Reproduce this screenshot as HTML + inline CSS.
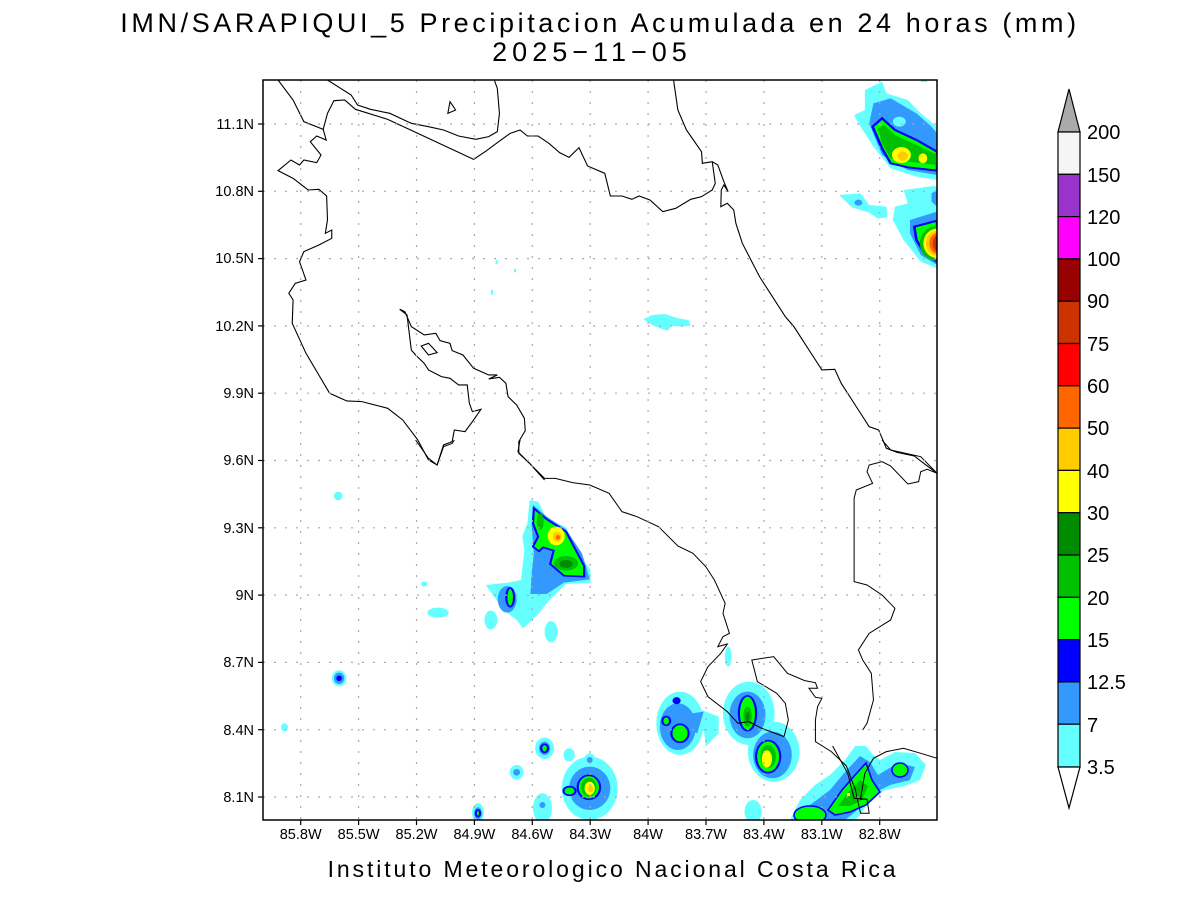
<!DOCTYPE html>
<html><head><meta charset="utf-8"><style>
html,body{margin:0;padding:0;background:#fff;}
svg{display:block;}
text{font-family:"Liberation Sans",sans-serif;fill:#000;}
</style></head><body>
<svg width="1200" height="900" viewBox="0 0 1200 900" xmlns="http://www.w3.org/2000/svg">
<defs>
<clipPath id="c"><rect x="263" y="80" width="674" height="740"/></clipPath>
</defs>
<rect width="1200" height="900" fill="#fff"/>
<text x="600" y="32" font-size="27" text-anchor="middle" letter-spacing="3.6">IMN/SARAPIQUI_5 Precipitacion Acumulada en 24 horas (mm)</text>
<text x="592" y="61" font-size="27" text-anchor="middle" letter-spacing="5">2025−11−05</text>

<g clip-path="url(#c)">
<g transform="translate(263,80) scale(0.4299,0.3333)">
 <path fill="#66ffff" d="M1400,30 L1440,5 L1450,40 L1500,60 L1530,100 L1568,140 L1568,300 L1520,290 L1460,265 L1420,200 L1390,140 L1375,105 L1400,90Z"/>
 <path fill="#3399ff" d="M1420,70 L1460,55 L1520,100 L1555,140 L1568,160 L1568,285 L1500,270 L1440,225 L1410,130Z"/>
 <path fill="#00ff00" stroke="#0000ff" stroke-width="6" d="M1440,115 L1470,150 L1520,180 L1568,215 L1568,272 L1500,262 L1460,250 L1440,205 L1418,140Z"/>
 <path fill="#00c000" d="M1445,135 L1470,165 L1520,195 L1568,225 L1568,255 L1500,245 L1460,235 L1440,190 L1430,145Z"/>
 <ellipse cx="1485" cy="225" rx="22" ry="24" fill="#ffff00"/>
 <ellipse cx="1488" cy="228" rx="12" ry="14" fill="#ffcc00"/>
 <ellipse cx="1535" cy="235" rx="10" ry="15" fill="#ffff00"/>
 <ellipse cx="1480" cy="125" rx="15" ry="15" fill="#66ffff"/>
 <path fill="#66ffff" d="M1340,345 L1390,340 L1410,375 L1450,380 L1452,412 L1430,415 L1410,398 L1370,382Z"/>
 <ellipse cx="1385" cy="368" rx="9" ry="9" fill="#3399ff"/>
 <path fill="#66ffff" d="M1490,330 L1560,318 L1568,320 L1568,565 L1530,545 L1490,480 L1465,420 L1470,380 L1500,370Z"/>
 <path fill="#3399ff" d="M1505,420 L1568,395 L1568,555 L1530,525 L1505,460Z"/>
 <path fill="#3399ff" d="M1555,340 L1568,330 L1568,380 L1555,365Z"/>
 <path fill="#00ff00" stroke="#0000ff" stroke-width="6" d="M1515,440 L1568,422 L1568,545 L1540,522 L1520,480Z"/>
 <ellipse cx="1568" cy="490" rx="40" ry="52" fill="#00c000"/>
 <ellipse cx="1568" cy="490" rx="32" ry="44" fill="#ffff00"/>
 <ellipse cx="1568" cy="490" rx="26" ry="38" fill="#ffcc00"/>
 <ellipse cx="1570" cy="490" rx="20" ry="32" fill="#ff6600"/>
 <ellipse cx="1572" cy="490" rx="14" ry="26" fill="#cc3300"/>
 <path fill="#66ffff" d="M885,718 L905,705 L935,702 L965,715 L990,720 L995,737 L975,740 L950,738 L942,752 L930,748 L905,735Z"/>
 <rect x="541" y="540" width="5" height="12" fill="#66ffff"/>
 <rect x="584" y="567" width="5" height="10" fill="#66ffff"/>
 <rect x="530" y="630" width="5" height="14" fill="#66ffff"/>
 <rect x="1530" y="0" width="15" height="6" fill="#66ffff"/>
 <g fill="none" stroke="#000" stroke-width="1.1">
  <path vector-effect="non-scaling-stroke" d="M35,0 L70,60 L95,125 L140,148 L147,180 L125,168 L110,185 L135,225 L125,248 L95,240 L85,255 L65,240 L35,272 L70,295 L105,330 L130,328 L148,348 L150,420 L145,460 L160,450 L160,475 L130,495 L95,515 L85,545 L100,600 L75,610 L60,640 L70,660 L68,730 L100,820 L155,940 L195,963 L230,965 L290,985 L325,1020 L360,1080 L385,1140 L405,1155 L420,1095 L440,1085 L445,1050 L470,1055 L490,1020 L507,988 L487,995 L480,970 L475,915 L455,915 L435,895 L415,890 L385,870 L375,850 L355,825 L345,810 L335,705 L318,688 L330,695 L345,740 L375,765 L402,760 L412,782 L435,790 L440,812 L465,825 L490,865 L525,885 L545,885 L525,897 L550,892 L565,910 L570,950 L590,975 L608,1015 L610,1052 L595,1085 L595,1120 L620,1150 L655,1200"/>
  <path vector-effect="non-scaling-stroke" d="M150,0 L205,45 L220,75 L250,88 L295,100 L345,130 L385,140 L420,150 L455,168 L495,178 L525,170 L545,155 L550,100 L545,25 L538,0"/>
  <path vector-effect="non-scaling-stroke" d="M140,148 L150,100 L165,62 L190,60 L215,88 L290,118 L490,238 L520,212 L545,188 L575,160 L598,150 L615,168 L640,168 L665,190 L690,218 L712,232 L735,203 L755,258 L795,280 L808,348 L835,348 L858,358 L875,348 L900,360 L930,395 L960,385 L995,358 L1020,350 L1045,330 L1052,310 L1045,245"/>
  <path vector-effect="non-scaling-stroke" d="M955,0 L965,90 L985,150 L1020,215 L1022,250 L1045,245 L1058,255 L1072,305 L1082,335 L1072,315 L1066,330 L1065,380 L1080,370 L1095,390 L1100,430 L1115,490 L1135,540 L1155,590 L1185,650 L1215,710 L1235,740 L1260,790 L1280,830 L1300,870 L1330,868 L1345,910 L1380,980 L1410,1040 L1432,1050 L1450,1105 L1475,1117 L1515,1128 L1537,1150 L1568,1180"/>
  <path vector-effect="non-scaling-stroke" d="M435,65 L448,90 L430,100Z"/>
  <path vector-effect="non-scaling-stroke" d="M368,798 L385,790 L405,818 L385,825Z"/>
 </g>
</g>
<g transform="translate(263,440) scale(0.4299,0.3333)">
 <g fill="#66ffff">
  <ellipse cx="175" cy="168" rx="10" ry="13"/>
  <ellipse cx="375" cy="432" rx="7" ry="8"/>
  <ellipse cx="407" cy="518" rx="25" ry="15"/>
  <ellipse cx="530" cy="540" rx="15" ry="28"/>
  <ellipse cx="670" cy="575" rx="15" ry="32"/>
  <ellipse cx="177" cy="715" rx="17" ry="24"/>
  <ellipse cx="50" cy="862" rx="8" ry="12"/>
  <ellipse cx="1082" cy="650" rx="8" ry="30"/>
  <path d="M620,180 L640,185 L660,235 L705,262 L725,320 L762,390 L762,428 L705,432 L665,482 L640,522 L605,565 L590,540 L560,510 L518,435 L570,428 L600,420 L608,330 L603,290 L615,250Z"/>
  <ellipse cx="970" cy="850" rx="55" ry="95"/>
  <path d="M1060,880 L1030,920 L1020,810 L1060,830Z"/>
  <ellipse cx="1130" cy="820" rx="60" ry="95"/>
  <ellipse cx="1188" cy="935" rx="60" ry="90"/>
  <ellipse cx="655" cy="925" rx="22" ry="32"/>
  <ellipse cx="712" cy="945" rx="13" ry="20"/>
  <ellipse cx="760" cy="960" rx="13" ry="20"/>
  <ellipse cx="590" cy="997" rx="16" ry="22"/>
  <ellipse cx="760" cy="1045" rx="65" ry="95"/>
  <ellipse cx="650" cy="1105" rx="22" ry="45"/>
  <ellipse cx="500" cy="1118" rx="14" ry="28"/>
  <ellipse cx="1140" cy="1115" rx="20" ry="35"/>
 </g>
 <g fill="#3399ff">
  <path d="M628,195 L660,230 L705,268 L742,340 L760,418 L700,428 L660,462 L622,462 L625,400 L630,340 L625,260Z"/>
  <ellipse cx="568" cy="478" rx="22" ry="40"/>
  <ellipse cx="177" cy="715" rx="12" ry="17"/>
  <ellipse cx="965" cy="860" rx="42" ry="70"/>
  <path d="M1000,820 L1025,815 L1010,880 L995,870Z"/>
  <ellipse cx="1127" cy="825" rx="42" ry="70"/>
  <ellipse cx="1185" cy="945" rx="45" ry="70"/>
  <ellipse cx="655" cy="925" rx="13" ry="20"/>
  <ellipse cx="590" cy="997" rx="8" ry="10"/>
  <ellipse cx="760" cy="1045" rx="48" ry="65"/>
  <ellipse cx="500" cy="1120" rx="9" ry="18"/>
  <ellipse cx="650" cy="1095" rx="7" ry="9"/>
  <ellipse cx="760" cy="960" rx="7" ry="9"/>
 </g>
 <g fill="#00ff00" stroke="#0000ff" stroke-width="5">
  <path d="M630,205 L660,238 L705,275 L747,378 L747,410 L700,407 L668,372 L676,332 L652,322 L642,334 L628,320 L640,290 L628,250Z"/>
  <ellipse cx="575" cy="472" rx="9" ry="28"/>
  <ellipse cx="177" cy="715" rx="4" ry="6" fill="#0000ff"/>
  <ellipse cx="970" cy="880" rx="20" ry="27"/>
  <ellipse cx="938" cy="843" rx="9" ry="13"/>
  <ellipse cx="962" cy="782" rx="7" ry="8" fill="#0000ff"/>
  <ellipse cx="1127" cy="820" rx="20" ry="52"/>
  <ellipse cx="1175" cy="950" rx="28" ry="48"/>
  <ellipse cx="655" cy="925" rx="8" ry="12"/>
  <ellipse cx="758" cy="1042" rx="26" ry="36"/>
  <ellipse cx="713" cy="1053" rx="14" ry="13"/>
  <ellipse cx="500" cy="1120" rx="5" ry="10"/>
 </g>
 <g fill="#00c000">
  <ellipse cx="705" cy="370" rx="28" ry="22"/>
  <ellipse cx="645" cy="245" rx="8" ry="25"/>
  <ellipse cx="1127" cy="830" rx="10" ry="30"/>
  <ellipse cx="1175" cy="950" rx="18" ry="35"/>
  <ellipse cx="758" cy="1042" rx="18" ry="28"/>
 </g>
 <g fill="#008c00">
  <ellipse cx="705" cy="372" rx="15" ry="12"/>
  <ellipse cx="1127" cy="830" rx="5" ry="15"/>
 </g>
 <ellipse cx="682" cy="288" rx="20" ry="28" fill="#ffff00"/>
 <ellipse cx="684" cy="290" rx="10" ry="15" fill="#ffcc00"/>
 <ellipse cx="686" cy="292" rx="5" ry="7" fill="#ff6600"/>
 <ellipse cx="1172" cy="957" rx="12" ry="26" fill="#ffff00"/>
 <ellipse cx="760" cy="1045" rx="12" ry="20" fill="#ffff00"/>
 <ellipse cx="762" cy="1047" rx="6" ry="10" fill="#ffcc00"/>
</g>
<!-- lower-right cluster in page coords -->
<path fill="#66ffff" d="M790,820 L800,800 L815,785 L830,775 L845,760 L855,746 L866,746 L873,755 L880,760 L895,752 L915,753 L926,765 L920,780 L905,786 L885,790 L870,800 L860,815 L855,820Z"/>
<path fill="#3399ff" d="M800,820 L810,805 L830,790 L845,772 L860,756 L870,762 L878,775 L898,763 L915,767 L910,780 L890,785 L870,795 L855,812 L845,820Z"/>
<path fill="#00ff00" stroke="#0000ff" stroke-width="1.6" d="M828,810 L842,790 L856,774 L866,763 L872,780 L880,792 L866,805 L850,812 L835,815Z"/>
<path fill="#00c000" d="M838,806 L850,790 L860,780 L868,786 L862,800 L850,806Z"/>
<ellipse cx="900" cy="770" rx="8" ry="7" fill="#00ff00" stroke="#0000ff" stroke-width="1.6"/>
<ellipse cx="810" cy="815" rx="16" ry="9" fill="#00ff00" stroke="#0000ff" stroke-width="1.6"/>
<rect x="847" y="793" width="3" height="3" fill="#ffff00"/>
<g transform="translate(263,440) scale(0.4299,0.3333)" fill="none" stroke="#000">
  <path vector-effect="non-scaling-stroke" d="M598,0 L593,35 L620,70 L655,115 L680,115 L720,128 L760,135 L805,160 L835,215 L870,230 L920,260 L965,318 L1000,340 L1030,380 L1050,420 L1075,490 L1070,520 L1085,580 L1070,590 L1058,620 L1080,612 L1065,640 L1035,680 L1018,725 L1035,770 L1080,815 L1105,850 L1130,845 L1160,865 L1212,890"/>
  <path vector-effect="non-scaling-stroke" d="M1212,890 L1222,840 L1215,790 L1195,760 L1150,725 L1137,660 L1188,650 L1220,700 L1260,722 L1285,728 L1290,745 L1270,745 L1285,772 L1300,775 L1290,800 L1285,840 L1285,905 L1322,935 L1357,978 L1378,1050 L1390,1120 L1410,1120 L1405,1078 L1390,1078 L1392,1060 L1400,1000 L1420,955 L1450,935 L1490,925 L1530,940 L1568,955"/>
  <path vector-effect="non-scaling-stroke" d="M1325,918 L1360,1000 L1375,1075 L1405,1078"/>
  <path vector-effect="non-scaling-stroke" d="M1440,0 L1460,30 L1530,50 L1568,100"/>
  <path vector-effect="non-scaling-stroke" d="M1568,100 L1545,88 L1530,95 L1525,125 L1500,132 L1460,78 L1440,65 L1410,75 L1405,95 L1418,130 L1380,150 L1375,175 L1375,425 L1405,435 L1440,465 L1470,505 L1460,540 L1410,580 L1385,630 L1395,660 L1415,700 L1420,780 L1405,850 L1395,870"/>
  <path vector-effect="non-scaling-stroke" d="M355,0 L385,55 L405,75 L420,20 L440,10 L445,0"/>
</g>
</g>

<g stroke="#aaa" stroke-width="1.2" stroke-dasharray="2,9">
 <line x1="300.7" y1="80" x2="300.7" y2="820"/><line x1="358.6" y1="80" x2="358.6" y2="820"/><line x1="416.5" y1="80" x2="416.5" y2="820"/><line x1="474.4" y1="80" x2="474.4" y2="820"/><line x1="532.3" y1="80" x2="532.3" y2="820"/><line x1="590.2" y1="80" x2="590.2" y2="820"/><line x1="648.1" y1="80" x2="648.1" y2="820"/><line x1="706" y1="80" x2="706" y2="820"/><line x1="763.9" y1="80" x2="763.9" y2="820"/><line x1="821.8" y1="80" x2="821.8" y2="820"/><line x1="879.7" y1="80" x2="879.7" y2="820"/>
 <line x1="263" y1="124" x2="937" y2="124"/><line x1="263" y1="191.3" x2="937" y2="191.3"/><line x1="263" y1="258.6" x2="937" y2="258.6"/><line x1="263" y1="325.9" x2="937" y2="325.9"/><line x1="263" y1="393.2" x2="937" y2="393.2"/><line x1="263" y1="460.5" x2="937" y2="460.5"/><line x1="263" y1="527.8" x2="937" y2="527.8"/><line x1="263" y1="595.1" x2="937" y2="595.1"/><line x1="263" y1="662.4" x2="937" y2="662.4"/><line x1="263" y1="729.7" x2="937" y2="729.7"/><line x1="263" y1="797" x2="937" y2="797"/>
</g>
<rect x="263" y="80" width="674" height="740" fill="none" stroke="#000" stroke-width="1.5"/>
<g stroke="#000" stroke-width="1.2">
 <line x1="300.7" y1="820" x2="300.7" y2="825"/><line x1="358.6" y1="820" x2="358.6" y2="825"/><line x1="416.5" y1="820" x2="416.5" y2="825"/><line x1="474.4" y1="820" x2="474.4" y2="825"/><line x1="532.3" y1="820" x2="532.3" y2="825"/><line x1="590.2" y1="820" x2="590.2" y2="825"/><line x1="648.1" y1="820" x2="648.1" y2="825"/><line x1="706" y1="820" x2="706" y2="825"/><line x1="763.9" y1="820" x2="763.9" y2="825"/><line x1="821.8" y1="820" x2="821.8" y2="825"/><line x1="879.7" y1="820" x2="879.7" y2="825"/>
 <line x1="258" y1="124" x2="263" y2="124"/><line x1="258" y1="191.3" x2="263" y2="191.3"/><line x1="258" y1="258.6" x2="263" y2="258.6"/><line x1="258" y1="325.9" x2="263" y2="325.9"/><line x1="258" y1="393.2" x2="263" y2="393.2"/><line x1="258" y1="460.5" x2="263" y2="460.5"/><line x1="258" y1="527.8" x2="263" y2="527.8"/><line x1="258" y1="595.1" x2="263" y2="595.1"/><line x1="258" y1="662.4" x2="263" y2="662.4"/><line x1="258" y1="729.7" x2="263" y2="729.7"/><line x1="258" y1="797" x2="263" y2="797"/>
</g>
<g font-size="14.5" text-anchor="middle">
 <text x="300.7" y="839">85.8W</text><text x="358.6" y="839">85.5W</text><text x="416.5" y="839">85.2W</text><text x="474.4" y="839">84.9W</text><text x="532.3" y="839">84.6W</text><text x="590.2" y="839">84.3W</text><text x="648.1" y="839">84W</text><text x="706" y="839">83.7W</text><text x="763.9" y="839">83.4W</text><text x="821.8" y="839">83.1W</text><text x="879.7" y="839">82.8W</text>
</g>
<g font-size="14.5" text-anchor="end">
 <text x="254" y="129">11.1N</text><text x="254" y="196">10.8N</text><text x="254" y="263">10.5N</text><text x="254" y="331">10.2N</text><text x="254" y="398">9.9N</text><text x="254" y="465">9.6N</text><text x="254" y="533">9.3N</text><text x="254" y="600">9N</text><text x="254" y="667">8.7N</text><text x="254" y="735">8.4N</text><text x="254" y="802">8.1N</text>
</g>
<text x="613" y="877" font-size="23" text-anchor="middle" letter-spacing="2.9">Instituto Meteorologico Nacional Costa Rica</text>

<g stroke="#000" stroke-width="1.2">
 <path d="M1058,132 L1069,89 L1080,132Z" fill="#aaaaaa"/>
 <rect x="1058" y="132" width="22" height="42.3" fill="#f5f5f5"/>
 <rect x="1058" y="174.3" width="22" height="42.3" fill="#9933cc"/>
 <rect x="1058" y="216.6" width="22" height="42.3" fill="#ff00ff"/>
 <rect x="1058" y="258.9" width="22" height="42.3" fill="#990000"/>
 <rect x="1058" y="301.2" width="22" height="42.3" fill="#cc3300"/>
 <rect x="1058" y="343.5" width="22" height="42.3" fill="#ff0000"/>
 <rect x="1058" y="385.8" width="22" height="42.3" fill="#ff6600"/>
 <rect x="1058" y="428.1" width="22" height="42.3" fill="#ffcc00"/>
 <rect x="1058" y="470.4" width="22" height="42.3" fill="#ffff00"/>
 <rect x="1058" y="512.7" width="22" height="42.3" fill="#008c00"/>
 <rect x="1058" y="555" width="22" height="42.3" fill="#00c000"/>
 <rect x="1058" y="597.3" width="22" height="42.3" fill="#00ff00"/>
 <rect x="1058" y="639.6" width="22" height="42.3" fill="#0000ff"/>
 <rect x="1058" y="681.9" width="22" height="42.3" fill="#3399ff"/>
 <rect x="1058" y="724.2" width="22" height="42.8" fill="#66ffff"/>
 <path d="M1058,767 L1069,808 L1080,767Z" fill="#fff"/>
</g>
<g font-size="20">
 <text x="1087" y="139">200</text><text x="1087" y="182">150</text><text x="1087" y="224">120</text><text x="1087" y="266">100</text><text x="1087" y="308">90</text><text x="1087" y="351">75</text><text x="1087" y="393">60</text><text x="1087" y="435">50</text><text x="1087" y="478">40</text><text x="1087" y="520">30</text><text x="1087" y="562">25</text><text x="1087" y="605">20</text><text x="1087" y="647">15</text><text x="1087" y="689">12.5</text><text x="1087" y="732">7</text><text x="1087" y="774">3.5</text>
</g>
</svg>
</body></html>
